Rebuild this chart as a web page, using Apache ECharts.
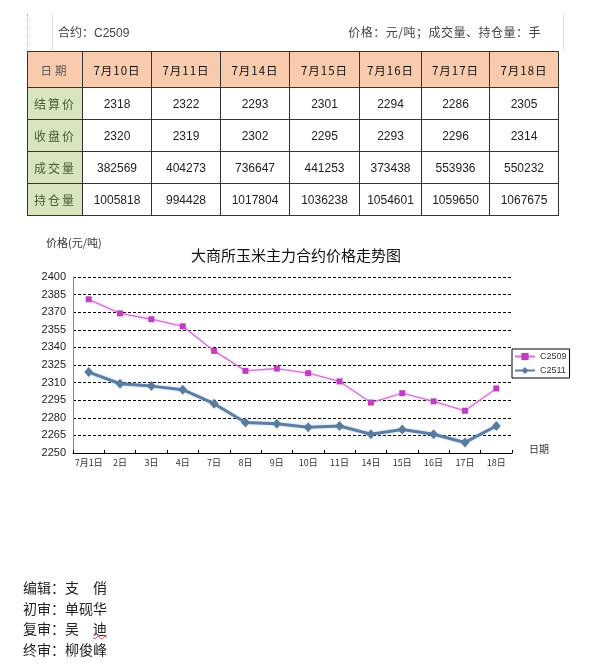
<!DOCTYPE html>
<html>
<head>
<meta charset="utf-8">
<script src="https://cdn.jsdelivr.net/npm/echarts@6/dist/echarts.min.js"></script>
<style>
  html, body { margin: 0; padding: 0; background: #fff; }
  body { width: 600px; height: 668px; position: relative; overflow: hidden;
         font-family: "Liberation Sans", "Noto Sans CJK SC", sans-serif; }
  #chart { position: absolute; left: 0; top: 0; width: 600px; height: 668px; z-index: 0; }
  .layer { position: absolute; z-index: 1; }
  #topbox { left: 27px; top: 14px; width: 535px; height: 36px;
            border-left: 1px dotted #bbb; border-right: 1px solid #ddd; }
  #topbox .inner { position: absolute; left: 24px; top: 0; width: 1px; height: 36px; background: #ddd; }
  #topbox .left { position: absolute; left: 30px; top: 9px; font-size: 12px; color: #444;
                  font-family: "Noto Sans CJK SC", sans-serif; }
  #topbox .left span { font-family: "Liberation Sans", sans-serif; }
  #topbox .right { position: absolute; right: 22px; top: 9px; font-size: 12px; color: #444;
                   font-family: "Noto Sans CJK SC", sans-serif; letter-spacing: 0.5px; }
  table { border-collapse: collapse; table-layout: fixed; left: 27px; top: 51px; }
  td { border: 1px solid #333; text-align: center; padding: 0; font-size: 12px; color: #222; }
  tr.head td { background: #F8CBAD; height: 35px; font-weight: normal; letter-spacing: 1px;
               font-family: "Noto Sans CJK SC", sans-serif; font-size: 11.5px; color: #111; }
  tr.head td.rh { color: #555; letter-spacing: 3px; }
  tr.body td { height: 31px; }
  td.rh { background: #D7E4BD; color: #4A5A30; font-family: "Noto Sans CJK SC", sans-serif;
          font-size: 12px; letter-spacing: 2px; }
  #footer { left: 23px; top: 577px; font-family: "Noto Sans CJK SC", sans-serif;
            font-size: 14px; color: #222; line-height: 20.7px; }
  .wavy { text-decoration: underline wavy #e04040; text-decoration-thickness: 1px; }
</style>
</head>
<body>
<div id="chart"></div>

<div id="topbox" class="layer">
  <div class="inner"></div>
  <div class="left">合约：<span>C2509</span></div>
  <div class="right">价格：元/吨；成交量、持仓量：手</div>
</div>

<table id="tbl" class="layer"></table>

<div id="footer" class="layer">
  <div>编辑：支　俏</div>
  <div>初审：单砚华</div>
  <div>复审：吴　<span class="wavy">迪</span></div>
  <div>终审：柳俊峰</div>
</div>

<script>
// 表格数据
const tableDates = ['7月10日', '7月11日', '7月14日', '7月15日', '7月16日', '7月17日', '7月18日'];
const settlePrice = [2318, 2322, 2293, 2301, 2294, 2286, 2305];
const closePrice = [2320, 2319, 2302, 2295, 2293, 2296, 2314];
const volume = [382569, 404273, 736647, 441253, 373438, 553936, 550232];
const openInterest = [1005818, 994428, 1017804, 1036238, 1054601, 1059650, 1067675];
const rowNames = ['结算价', '收盘价', '成交量', '持仓量'];

// 走势图数据
const chartDates = ['7月1日', '2日', '3日', '4日', '7日', '8日', '9日', '10日', '11日', '14日', '15日', '16日', '17日', '18日'];
const c2509 = [2381, 2369, 2364, 2358, 2337, 2320, 2322, 2318, 2311, 2293, 2301, 2294, 2286, 2305];
const c2511 = [2319, 2309, 2307, 2304, 2292, 2276, 2275, 2272, 2273, 2266, 2270, 2266, 2259, 2273];

// 生成表格
const colWidths = [55, 69, 69, 69, 70, 62, 68, 69];
const tbl = document.getElementById('tbl');
let html = '<colgroup>' + colWidths.map(w => `<col style="width:${w}px">`).join('') + '</colgroup>';
html += '<tr class="head"><td class="rh">日期</td>' + tableDates.map(d => `<td>${d}</td>`).join('') + '</tr>';
[settlePrice, closePrice, volume, openInterest].forEach((row, i) => {
    html += `<tr class="body"><td class="rh">${rowNames[i]}</td>` + row.map(v => `<td>${v}</td>`).join('') + '</tr>';
});
tbl.innerHTML = html;

// 走势图
const chart = echarts.init(document.getElementById('chart'), null, { renderer: 'canvas' });
chart.setOption({
    animation: false,
    backgroundColor: 'transparent',
    title: {
        text: '大商所玉米主力合约价格走势图',
        left: 186,
        top: 243,
        textStyle: { fontSize: 15, fontWeight: 'normal', color: '#111', fontFamily: 'Noto Sans CJK SC' }
    },
    graphic: [
        { type: 'text', left: 46, top: 237, style: { text: '价格(元/吨)', fontSize: 11, fill: '#333', fontFamily: 'Noto Sans CJK SC' } },
        { type: 'text', left: 529, top: 444, style: { text: '日期', fontSize: 10, fill: '#333', fontFamily: 'Noto Sans CJK SC' } }
    ],
    legend: {
        orient: 'vertical',
        left: 512,
        top: 349,
        padding: [3, 3, 3, 2],
        itemWidth: 20,
        itemHeight: 9,
        itemGap: 5,
        itemTextGap: 2,
        borderColor: '#000',
        borderWidth: 1,
        textStyle: { fontSize: 9, color: '#333', fontFamily: 'Liberation Sans' },
        data: ['C2509', 'C2511']
    },
    grid: { left: 73, right: 88, top: 277, bottom: 215, containLabel: false },
    xAxis: {
        type: 'category',
        data: chartDates,
        boundaryGap: true,
        axisLine: { lineStyle: { color: '#000', width: 1 } },
        axisTick: { show: true, inside: true, length: 3, lineStyle: { color: '#000' } },
        axisLabel: { interval: 0, fontSize: 9, margin: 5, color: '#333', fontFamily: 'Noto Sans CJK SC' }
    },
    yAxis: {
        type: 'value',
        min: 2250,
        max: 2400,
        interval: 15,
        axisLine: { show: true, lineStyle: { color: '#888' } },
        axisTick: { show: false },
        axisLabel: { fontSize: 11, margin: 7, color: '#222', fontFamily: 'Liberation Sans', formatter: v => String(v) },
        splitLine: { show: true, lineStyle: { color: '#000', type: [3, 2], width: 1 } }
    },
    series: [
        {
            name: 'C2509',
            type: 'line',
            data: c2509,
            symbol: 'rect',
            symbolSize: 6,
            lineStyle: { color: '#D86ED8', width: 1.3, shadowColor: 'rgba(240,160,240,0.6)', shadowBlur: 3 },
            itemStyle: { color: '#C23CC2' }
        },
        {
            name: 'C2511',
            type: 'line',
            data: c2511,
            symbol: 'diamond',
            symbolSize: [9, 10],
            lineStyle: { color: '#5D7DA2', width: 3, shadowColor: 'rgba(140,190,240,0.6)', shadowBlur: 3 },
            itemStyle: { color: '#5A7AA0' }
        }
    ]
});
</script>
</body>
</html>
